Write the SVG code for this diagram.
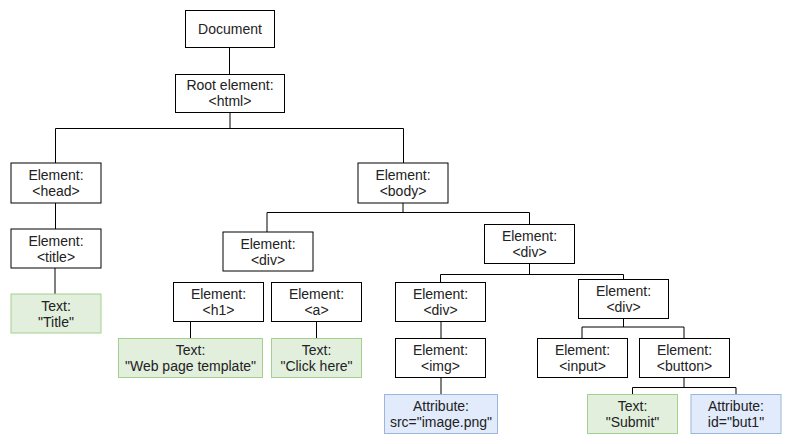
<svg xmlns="http://www.w3.org/2000/svg" width="792" height="444" viewBox="0 0 792 444">
<style>
.n{fill:#fff;stroke:#000;stroke-width:1}
.g{fill:#e1efdc;stroke:#a3d08c;stroke-width:1}
.b{fill:#e1ebfb;stroke:#9cb5dc;stroke-width:1}
text{font-family:"Liberation Sans",Arial,Helvetica,sans-serif;font-size:14px;fill:#222;text-anchor:middle}
.c{fill:none;stroke:#000;stroke-width:1}
</style>
<rect width="792" height="444" fill="#fff"/>
<g id="connectors">
<path class="c" d="M229.5,47.5V74.5"/>
<path class="c" d="M230,112.5V128.5M55.5,163V128.5H403.5V163"/>
<path class="c" d="M55.5,203V229"/>
<path class="c" d="M55,268V294"/>
<path class="c" d="M403,203V212.5M267,232V212.5H529.5V224.5"/>
<path class="c" d="M190.5,321.5V338.5"/>
<path class="c" d="M316.5,321.5V338.5"/>
<path class="c" d="M529.5,263.5V274.5M440.5,282.5V274.5H623.5V279.5"/>
<path class="c" d="M441,321.5V338.5"/>
<path class="c" d="M441,377.5V394.5"/>
<path class="c" d="M623.5,318.5V327M582,338.5V327H684V338.5"/>
<path class="c" d="M684,377.5V387.5M632.5,394.5V387.5H736V394.5"/>
</g>
<g id="document"><rect class="n" x="185.5" y="10.5" width="89" height="37"/><text x="230" y="34">Document</text></g>
<g id="root"><rect class="n" x="175.5" y="74.5" width="109" height="38"/><text x="230" y="89.5">Root element:<tspan x="230" dy="16">&lt;html&gt;</tspan></text></g>
<g id="head"><rect class="n" x="11" y="163" width="90" height="40"/><text x="56" y="180">Element:<tspan x="56" dy="16">&lt;head&gt;</tspan></text></g>
<g id="body"><rect class="n" x="358" y="163" width="90" height="40"/><text x="403" y="180">Element:<tspan x="403" dy="16">&lt;body&gt;</tspan></text></g>
<g id="title"><rect class="n" x="11" y="229" width="90" height="39"/><text x="56" y="245.5">Element:<tspan x="56" dy="16">&lt;title&gt;</tspan></text></g>
<g id="text-title"><rect class="g" x="11" y="294" width="90" height="39"/><text x="56" y="310.5">Text:<tspan x="56" dy="16">"Title"</tspan></text></g>
<g id="div-left"><rect class="n" x="223" y="232" width="90" height="39"/><text x="268" y="248.5">Element:<tspan x="268" dy="16">&lt;div&gt;</tspan></text></g>
<g id="h1"><rect class="n" x="173.5" y="282.5" width="90" height="39"/><text x="218.5" y="298.5">Element:<tspan x="218.5" dy="16">&lt;h1&gt;</tspan></text></g>
<g id="a"><rect class="n" x="271.5" y="282.5" width="90" height="39"/><text x="316.5" y="298.5">Element:<tspan x="316.5" dy="16">&lt;a&gt;</tspan></text></g>
<g id="text-web"><rect class="g" x="118.5" y="338.5" width="144" height="39"/><text x="190.5" y="354.5">Text:<tspan x="190.5" dy="16">"Web page template"</tspan></text></g>
<g id="text-click"><rect class="g" x="271.5" y="338.5" width="90" height="39"/><text x="316.5" y="354.5">Text:<tspan x="316.5" dy="16">"Click here"</tspan></text></g>
<g id="div-right"><rect class="n" x="484.5" y="224.5" width="90" height="39"/><text x="529.5" y="240.5">Element:<tspan x="529.5" dy="16">&lt;div&gt;</tspan></text></g>
<g id="div-inner-left"><rect class="n" x="395.5" y="282.5" width="90" height="39"/><text x="440.5" y="298.5">Element:<tspan x="440.5" dy="16">&lt;div&gt;</tspan></text></g>
<g id="div-inner-right"><rect class="n" x="578.5" y="279.5" width="90" height="39"/><text x="623.5" y="295.5">Element:<tspan x="623.5" dy="16">&lt;div&gt;</tspan></text></g>
<g id="img"><rect class="n" x="395.5" y="338.5" width="90" height="39"/><text x="440.5" y="354.5">Element:<tspan x="440.5" dy="16">&lt;img&gt;</tspan></text></g>
<g id="attr-src"><rect class="b" x="384.5" y="394.5" width="113" height="39"/><text x="441" y="410.5">Attribute:<tspan x="441" dy="16">src="image.png"</tspan></text></g>
<g id="input"><rect class="n" x="537.5" y="338.5" width="90" height="39"/><text x="582.5" y="354.5">Element:<tspan x="582.5" dy="16">&lt;input&gt;</tspan></text></g>
<g id="button"><rect class="n" x="639.5" y="338.5" width="90" height="39"/><text x="684.5" y="354.5">Element:<tspan x="684.5" dy="16">&lt;button&gt;</tspan></text></g>
<g id="text-submit"><rect class="g" x="587.5" y="394.5" width="90" height="39"/><text x="632.5" y="410.5">Text:<tspan x="632.5" dy="16">"Submit"</tspan></text></g>
<g id="attr-id"><rect class="b" x="691" y="394.5" width="90" height="39"/><text x="736" y="410.5">Attribute:<tspan x="736" dy="16">id="but1"</tspan></text></g>
</svg>
